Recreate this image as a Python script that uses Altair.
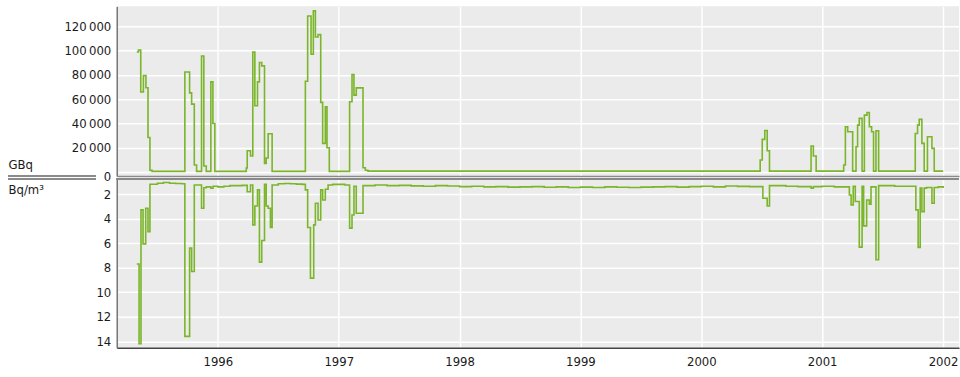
import altair as alt
import pandas as pd

# ---- data (decimal year, value), step-after series ----
years_gbq = [1995.329, 1995.343, 1995.362, 1995.384, 1995.405, 1995.422, 1995.438, 1995.455,
             1995.727, 1995.766, 1995.783, 1995.805, 1995.824, 1995.865, 1995.884, 1995.904,
             1995.942, 1995.959, 1995.975, 1996.235, 1996.243, 1996.270, 1996.289, 1996.306,
             1996.328, 1996.344, 1996.363, 1996.386, 1996.400, 1996.416, 1996.449, 1996.724,
             1996.743, 1996.771, 1996.790, 1996.807, 1996.829, 1996.851, 1996.867, 1996.889,
             1996.903, 1996.922, 1997.090, 1997.110, 1997.126, 1997.145, 1997.201, 1997.220,
             1997.242, 2000.487, 2000.504, 2000.525, 2000.545, 2000.564, 2000.908, 2000.927,
             2000.950, 2001.178, 2001.192, 2001.211, 2001.252, 2001.280, 2001.293, 2001.307,
             2001.330, 2001.349, 2001.371, 2001.390, 2001.409, 2001.425, 2001.445, 2001.467,
             2001.770, 2001.789, 2001.803, 2001.825, 2001.844, 2001.871, 2001.908, 2001.927,
             2002.001]
gbq = [99000, 100500, 66000, 79500, 69500, 28500, 1500, 500,
       82500, 65300, 56000, 5800, 500, 95700, 4900, 500,
       74300, 40000, 500, 3300, 17500, 13200, 99000, 54600,
       74300, 90300, 87500, 7100, 11500, 31500, 500, 74900,
       128600, 97100, 133000, 111400, 113300, 57400, 23600, 53700,
       20000, 500, 57900, 80400, 63400, 69400, 3500, 1500,
       700, 9900, 26900, 34300, 17500, 700, 21400, 13200,
       700, 5800, 37300, 33200, 700, 20800, 38700, 44200,
       700, 46900, 49100, 37300, 33200, 700, 34000, 700,
       31800, 38700, 43400, 23600, 700, 29100, 19500, 700,
       700]

years_bq = [1995.329, 1995.348, 1995.364, 1995.381, 1995.403, 1995.422, 1995.438, 1995.50,
            1995.55, 1995.60, 1995.65, 1995.70, 1995.727, 1995.766, 1995.783, 1995.805,
            1995.865, 1995.884, 1995.904, 1995.942, 1995.96, 1996.00, 1996.05, 1996.10,
            1996.15, 1996.20, 1996.243, 1996.270, 1996.289, 1996.306, 1996.328, 1996.344,
            1996.363, 1996.386, 1996.400, 1996.416, 1996.435, 1996.449, 1996.50, 1996.55,
            1996.60, 1996.65, 1996.70, 1996.724, 1996.743, 1996.766, 1996.793, 1996.807,
            1996.829, 1996.851, 1996.867, 1996.889, 1996.912, 1996.95, 1997.00, 1997.05,
            1997.090, 1997.110, 1997.126, 1997.145, 1997.201, 1997.30, 1997.40, 1997.50,
            1997.60, 1997.70, 1997.80, 1997.90, 1998.00, 1998.10, 1998.20, 1998.30,
            1998.40, 1998.50, 1998.60, 1998.70, 1998.80, 1998.90, 1999.00, 1999.10,
            1999.20, 1999.30, 1999.40, 1999.50, 1999.60, 1999.70, 1999.80, 1999.90,
            2000.00, 2000.10, 2000.20, 2000.30, 2000.40, 2000.509, 2000.545, 2000.564,
            2000.70, 2000.80, 2000.908, 2000.927, 2001.00, 2001.10, 2001.225, 2001.239,
            2001.257, 2001.274, 2001.307, 2001.330, 2001.343, 2001.368, 2001.390, 2001.404,
            2001.445, 2001.467, 2001.60, 2001.775, 2001.794, 2001.811, 2001.825, 2001.844,
            2001.863, 2001.908, 2001.927, 2001.96, 2002.001]
bqm3 = [7.7, 14.2, 3.28, 6.05, 3.15, 5.05, 1.19, 1.1,
        1.05, 1.1, 1.12, 1.15, 13.6, 6.4, 8.3, 1.25,
        3.15, 1.47, 1.4, 1.5, 1.35, 1.4, 1.35, 1.3,
        1.3, 1.28, 1.8, 1.25, 4.5, 2.96, 1.65, 7.54,
        5.78, 1.19, 2.96, 3.15, 4.72, 1.25, 1.15, 1.12,
        1.15, 1.18, 1.2, 1.65, 4.72, 8.85, 4.5, 2.74,
        4.1, 1.65, 2.47, 1.6, 1.25, 1.2, 1.2, 1.25,
        4.77, 3.69, 1.35, 3.55, 1.3, 1.25, 1.3, 1.28,
        1.32, 1.35, 1.3, 1.33, 1.38, 1.35, 1.4, 1.38,
        1.42, 1.4, 1.38, 1.43, 1.4, 1.45, 1.42, 1.45,
        1.4, 1.43, 1.45, 1.42, 1.4, 1.38, 1.42, 1.38,
        1.35, 1.4, 1.33, 1.36, 1.38, 2.33, 2.96, 1.3,
        1.35, 1.38, 1.5, 1.38, 1.35, 1.4, 2.06, 2.87,
        1.36, 2.6, 6.32, 1.36, 4.58, 2.47, 2.82, 1.4,
        7.35, 1.3, 1.35, 3.28, 6.34, 1.5, 3.42, 1.5,
        1.45, 2.74, 1.45, 1.4, 1.5]

year_ticks = [1996, 1997, 1998, 1999, 2000, 2001, 2002]
gbq_ticks = [0, 20000, 40000, 60000, 80000, 100000, 120000]
bq_ticks = [2, 4, 6, 8, 10, 12, 14]

df_top = pd.DataFrame({"year": years_gbq, "value": gbq})
df_bot = pd.DataFrame({"year": years_bq, "value": bqm3})

FONT = "DejaVu Sans Condensed, DejaVu Sans, sans-serif"
GREEN = "#7ab52a"
TXT = "#1a1a1a"
W = 844
XDOM = [1995.1635, 2002.132]

x_top = alt.X("year:Q", scale=alt.Scale(domain=XDOM, nice=False, zero=False),
              axis=alt.Axis(values=year_ticks, labels=False, ticks=False, title=None,
                            grid=True, gridColor="white", gridWidth=1.5,
                            domain=True, domainColor="#8a8a8a", domainWidth=1.5))
y_top = alt.Y("value:Q", scale=alt.Scale(domain=[-3300, 136600], nice=False, zero=False),
              axis=alt.Axis(values=gbq_ticks, ticks=False, labelPadding=6,
                            labelExpr="replace(format(datum.value, ','), ',', '\u2009')",
                            labelOffset={"condition": {"test": "datum.value === 0", "value": 4},
                                         "value": 0},
                            grid=True, gridColor="white", gridWidth=1.5,
                            domainColor="#777777", domainWidth=1.5,
                            title="GBq", titleAngle=0, titleX=-109, titleY=162,
                            titleAlign="left", titleBaseline="alphabetic"))

top_line = alt.Chart(df_top).mark_line(interpolate="step-after", color=GREEN,
                                        strokeWidth=1.6).encode(x=x_top, y=y_top)
top_rule = alt.Chart(df_top).mark_rule(color="#8a8a8a", strokeWidth=1.5).encode(
    x=alt.value(-109), x2=alt.value(-21), y=alt.value(170))
top = alt.layer(top_line, top_rule).properties(width=W, height=170)

x_bot = alt.X("year:Q", scale=alt.Scale(domain=XDOM, nice=False, zero=False),
              axis=alt.Axis(values=year_ticks, format="d", ticks=False, title=None,
                            labelPadding=8,
                            grid=True, gridColor="white", gridWidth=1.5,
                            domain=True, domainColor="#444444", domainWidth=1.5))
y_bot = alt.Y("value:Q", scale=alt.Scale(domain=[0.76, 14.52], nice=False, zero=False, reverse=True),
              axis=alt.Axis(values=bq_ticks, ticks=False, labelPadding=6,
                            grid=True, gridColor="white", gridWidth=1.5,
                            domainColor="#777777", domainWidth=1.5,
                            title="Bq/m³", titleAngle=0, titleX=-109, titleY=15,
                            titleAlign="left", titleBaseline="alphabetic"))

bot_line = alt.Chart(df_bot).mark_line(interpolate="step-after", color=GREEN,
                                        strokeWidth=1.6).encode(x=x_bot, y=y_bot)
bot_rule1 = alt.Chart(df_bot).mark_rule(color="#8a8a8a", strokeWidth=1.5).encode(
    x=alt.value(-109), x2=alt.value(-21), y=alt.value(0))
bot_rule2 = alt.Chart(df_bot).mark_rule(color="#8a8a8a", strokeWidth=1.5).encode(
    x=alt.value(0), x2=alt.value(W), y=alt.value(0))
bottom = alt.layer(bot_line, bot_rule1, bot_rule2).properties(width=W, height=169)

chart = alt.vconcat(top, bottom, spacing=3, bounds="flush").properties(
    padding={"left": 7, "top": 6, "right": 0, "bottom": 2},
    background="white",
    config=alt.Config(
        view=alt.ViewConfig(stroke=None, fill="#ebebeb"),
        axis=alt.AxisConfig(labelFont=FONT, labelFontSize=13, labelColor=TXT,
                            titleFont=FONT, titleFontSize=13, titleColor=TXT,
                            titleFontWeight="normal"),
    ),
)

chart.save("out.html", embed_options={"renderer": "svg", "actions": False})
